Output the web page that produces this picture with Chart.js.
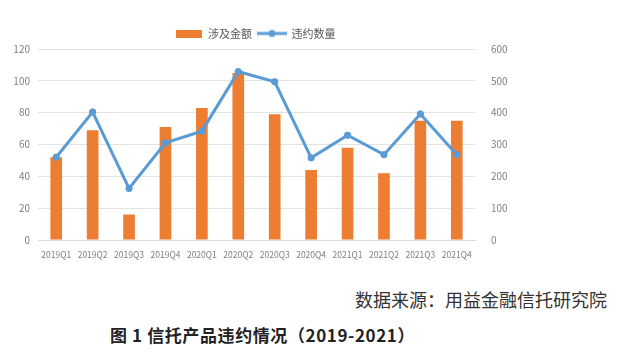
<!DOCTYPE html>
<html lang="zh">
<head>
    <meta charset="UTF-8">
    <title>信托产品违约情况</title>
    <style>
        body { margin: 0; background: #fff; }
        #wrap { position: relative; width: 617px; height: 362px; background: #fff; }
        #box { position: absolute; left: 0; top: 0; width: 510px; height: 265px; }
        .src { position: absolute; right: 10px; top: 286px; font: 18px "Noto Sans CJK SC", sans-serif; color: #333; }
        .cap { position: absolute; left: 110px; top: 322px; font: bold 17px "Noto Sans CJK SC", sans-serif; color: #222; letter-spacing: 0.6px; }
    </style>
</head>
<body>
<div id="wrap">
    <div id="box"><canvas id="myChart"></canvas></div>
    <div class="src">数据来源：用益金融信托研究院</div>
    <div class="cap">图 1 信托产品违约情况（2019-2021）</div>
</div>

<script src="https://cdn.jsdelivr.net/npm/chart.js"></script>
<script>
    // 분기
    const quarters = ['2019Q1', '2019Q2', '2019Q3', '2019Q4', '2020Q1', '2020Q2',
                      '2020Q3', '2020Q4', '2021Q1', '2021Q2', '2021Q3', '2021Q4'];
    // 涉及金额 (左轴)
    const amount = [52, 69, 16, 71, 83, 105, 79, 44, 58, 42, 75, 75];
    // 违约数量 (右轴)
    const count = [260, 402, 162, 305, 342, 529, 497, 258, 329, 268, 396, 268];

    const leftTicks = [0, 20, 40, 60, 80, 100, 120];
    const rightTicks = [0, 100, 200, 300, 400, 500, 600];

    const orange = '#ED7D31';
    const blue = '#5B9BD5';

    // legend icons
    function barIcon() {
        const c = document.createElement('canvas');
        c.width = 26; c.height = 8;
        const g = c.getContext('2d');
        g.fillStyle = orange;
        g.fillRect(0, 0, 26, 8);
        return c;
    }
    function lineIcon() {
        const c = document.createElement('canvas');
        c.width = 30; c.height = 10;
        const g = c.getContext('2d');
        g.strokeStyle = blue; g.lineWidth = 3;
        g.beginPath(); g.moveTo(0, 5); g.lineTo(30, 5); g.stroke();
        g.fillStyle = blue;
        g.beginPath(); g.arc(15, 5, 3.5, 0, Math.PI * 2); g.fill();
        return c;
    }
    const icons = [barIcon(), lineIcon()];

    const tickFont = { family: '"Noto Sans CJK SC", sans-serif', size: 10 };

    const ctx = document.getElementById('myChart');
    new Chart(ctx, {
        data: {
            labels: quarters,
            datasets: [
                {
                    type: 'bar',
                    label: '涉及金额',
                    data: amount,
                    backgroundColor: orange,
                    yAxisID: 'y',
                    barPercentage: 0.32,
                    categoryPercentage: 1,
                    order: 2
                },
                {
                    type: 'line',
                    label: '违约数量',
                    data: count,
                    borderColor: blue,
                    backgroundColor: blue,
                    borderWidth: 3,
                    pointRadius: 3.2,
                    pointBorderWidth: 1,
                    pointHoverRadius: 3.2,
                    tension: 0,
                    yAxisID: 'y1',
                    order: 1
                }
            ]
        },
        options: {
            responsive: true,
            maintainAspectRatio: false,
            animation: false,
            layout: { padding: { top: 22, right: 0, left: 0, bottom: 0 } },
            plugins: {
                tooltip: { enabled: false },
                legend: {
                    position: 'top',
                    labels: {
                        usePointStyle: true,
                        pointStyleWidth: 28,
                        padding: 6,
                        color: '#595959',
                        font: { family: '"Noto Sans CJK SC", sans-serif', size: 11 },
                        generateLabels: (chart) => chart.data.datasets.map((ds, i) => ({
                            text: ds.label,
                            fillStyle: ds.backgroundColor,
                            strokeStyle: ds.backgroundColor,
                            lineWidth: 0,
                            pointStyle: icons[i],
                            datasetIndex: i,
                            fontColor: '#595959'
                        }))
                    }
                }
            },
            scales: {
                x: {
                    grid: { display: false },
                    border: { display: true, color: '#d9d9d9' },
                    ticks: { color: '#7f7f7f', font: { family: '"Noto Sans CJK SC", sans-serif', size: 8.5 }, maxRotation: 0, autoSkip: false, padding: 2 },
                    afterFit: (s) => { s.height = 25; }
                },
                y: {
                    position: 'left',
                    min: 0, max: 120,
                    afterBuildTicks: (s) => { s.ticks = leftTicks.map(v => ({ value: v })); },
                    grid: { color: '#e3e3e3', drawTicks: false },
                    border: { display: false },
                    ticks: { color: '#7f7f7f', font: tickFont, padding: 8 },
                    afterFit: (s) => { s.width = 38; }
                },
                y1: {
                    position: 'right',
                    min: 0, max: 600,
                    afterBuildTicks: (s) => { s.ticks = rightTicks.map(v => ({ value: v })); },
                    grid: { display: false },
                    border: { display: false },
                    ticks: { color: '#7f7f7f', font: tickFont, padding: 8 },
                    afterFit: (s) => { s.width = 35; }
                }
            }
        }
    });
</script>
</body>
</html>
